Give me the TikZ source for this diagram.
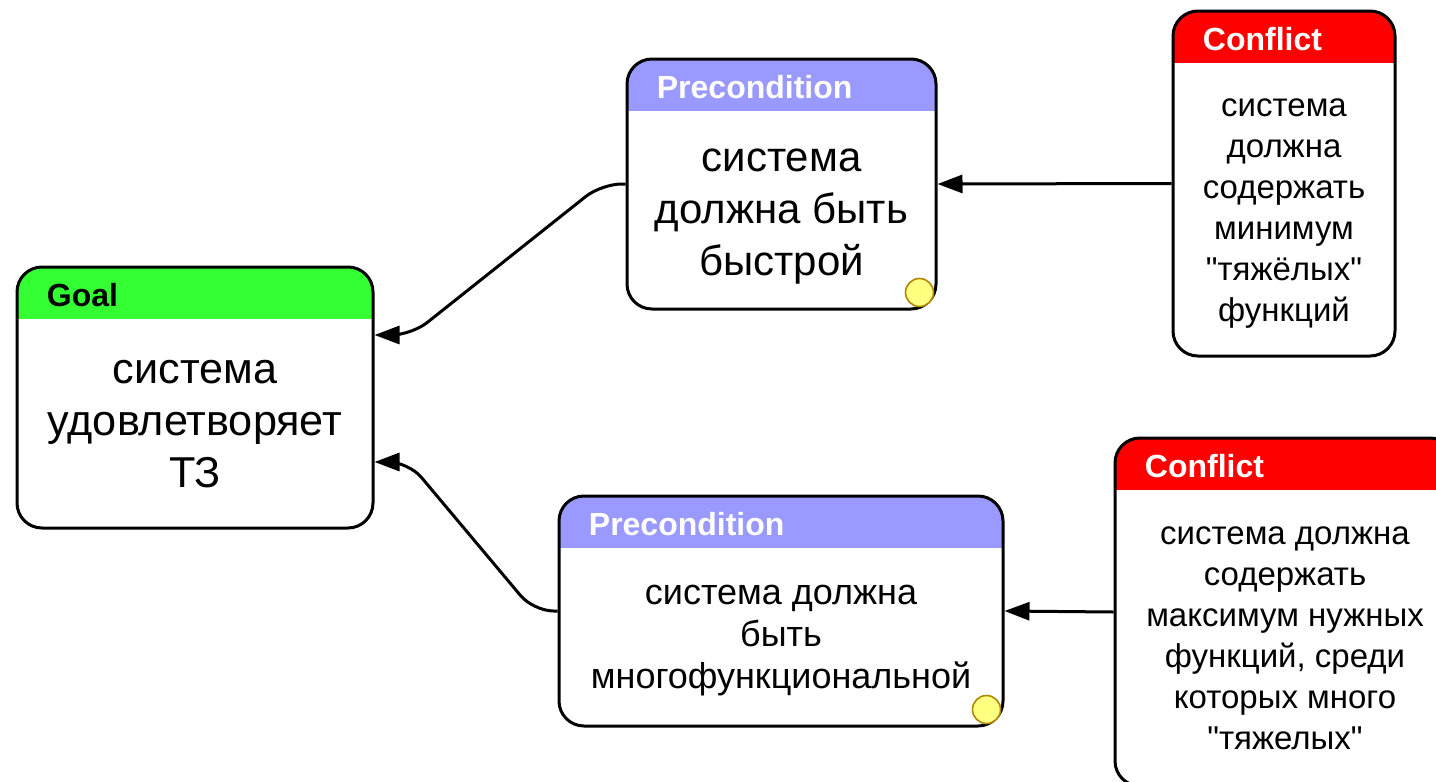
\documentclass[tikz,border=0pt]{standalone}
\usepackage{fontspec}
\setmainfont{Liberation Sans}
\usetikzlibrary{arrows.meta}

\definecolor{goalgreen}{HTML}{33FF33}
\definecolor{precblue}{HTML}{9999FF}
\definecolor{conflred}{HTML}{FF0000}
\definecolor{dotyellow}{HTML}{FFFF80}
\definecolor{dotedge}{HTML}{B08800}

\tikzset{
	card/.style={draw, line width=1.5pt, rounded corners=12.5pt, fill=white, inner sep=0pt,
		path picture={\fill[#1, sharp corners] (path picture bounding box.north west) rectangle ([yshift=-26pt]path picture bounding box.north east);}},
	head/.style={anchor=base west, inner sep=0pt, font=\fontsize{16}{19}\selectfont\bfseries},
	bigtext/.style={align=center, inner sep=0pt, font=\fontsize{21}{26}\selectfont},
	midtext/.style={align=center, inner sep=0pt, font=\fontsize{18}{21}\selectfont},
	smalltext/.style={align=center, inner sep=0pt, font=\fontsize{16.5}{20.5}\selectfont},
	link/.style={line width=1.5pt, rounded corners=10pt, -{Triangle[length=12.5pt,width=9pt]}},
	dot/.style={circle, draw=dotedge, fill=dotyellow, line width=0.8pt, minimum size=14pt, inner sep=0pt}
}

\begin{document}
\begin{tikzpicture}[x=0.5pt,y=-0.5pt]
	\useasboundingbox (0,0) rectangle (1436,782);
	\clip (0,0) rectangle (1436,782);
	% boxes
	\node[card=goalgreen, minimum width=178pt, minimum height=130.5pt] (goal) at (195,397.5) {};
	\node[card=precblue, minimum width=154.5pt, minimum height=125pt] (pre1) at (781.5,184) {};
	\node[card=conflred, minimum width=111pt, minimum height=172.5pt] (con1) at (1284,183.5) {};
	\node[card=precblue, minimum width=222pt, minimum height=115pt] (pre2) at (781,611) {};
	\node[card=conflred, minimum width=170pt, minimum height=174pt] (con2) at (1285,612) {};
	% headers
	\node[head, text=black] (goalhead) at ([shift={(15.5pt,-20.5pt)}]goal.north west) {Goal};
	\node[head, text=white] (pre1head) at ([shift={(15.5pt,-20.5pt)}]pre1.north west) {Precondition};
	\node[head, text=white] (con1head) at ([shift={(15.5pt,-20.5pt)}]con1.north west) {Conflict};
	\node[head, text=white] (pre2head) at ([shift={(15.5pt,-20.5pt)}]pre2.north west) {Precondition};
	\node[head, text=white] (con2head) at ([shift={(15.5pt,-20.5pt)}]con2.north west) {Conflict};
	% texts
	\node[bigtext, font=\fontsize{21.6}{26}\selectfont] (goaltext) at ([yshift=-13.5pt]goal.center) {система\\удовлетворяет\\ТЗ};
	\node[bigtext] (pre1text) at ([yshift=-16.5pt]pre1.center) {система\\должна быть\\быстрой};
	\node[smalltext] (con1text) at ([yshift=-15pt]con1.center) {система\\должна\\содержать\\минимум\\\textquotedbl тяжёлых\textquotedbl\\функций};
	\node[midtext] (pre2text) at ([yshift=-15pt]pre2.center) {система должна\\быть\\многофункциональной};
	\node[smalltext] (con2text) at ([yshift=-13pt]con2.center) {система должна\\содержать\\максимум нужных\\функций, среди\\которых много\\\textquotedbl тяжелых\textquotedbl};
	% markers
	\node[dot] (pre1dot) at ([shift={(-9pt,9pt)}]pre1.south east) {};
	\node[dot] (pre2dot) at ([shift={(-9pt,9pt)}]pre2.south east) {};
	% links
	\coordinate (g1) at ([yshift=31.25pt]goal.east);
	\coordinate (g2) at ([yshift=-32.25pt]goal.east);
	\draw[link] (pre1.west) -- ++(-24,0) -- ++(-190,151) -- (g1);
	\draw[link] (pre2.west) -- ++(-24,0) -- ++(-125,-149) -- (g2);
	\draw[link] (con1.west) -- (pre1.east);
	\draw[link] (con2.west) -- (pre2.east);
\end{tikzpicture}
\end{document}
